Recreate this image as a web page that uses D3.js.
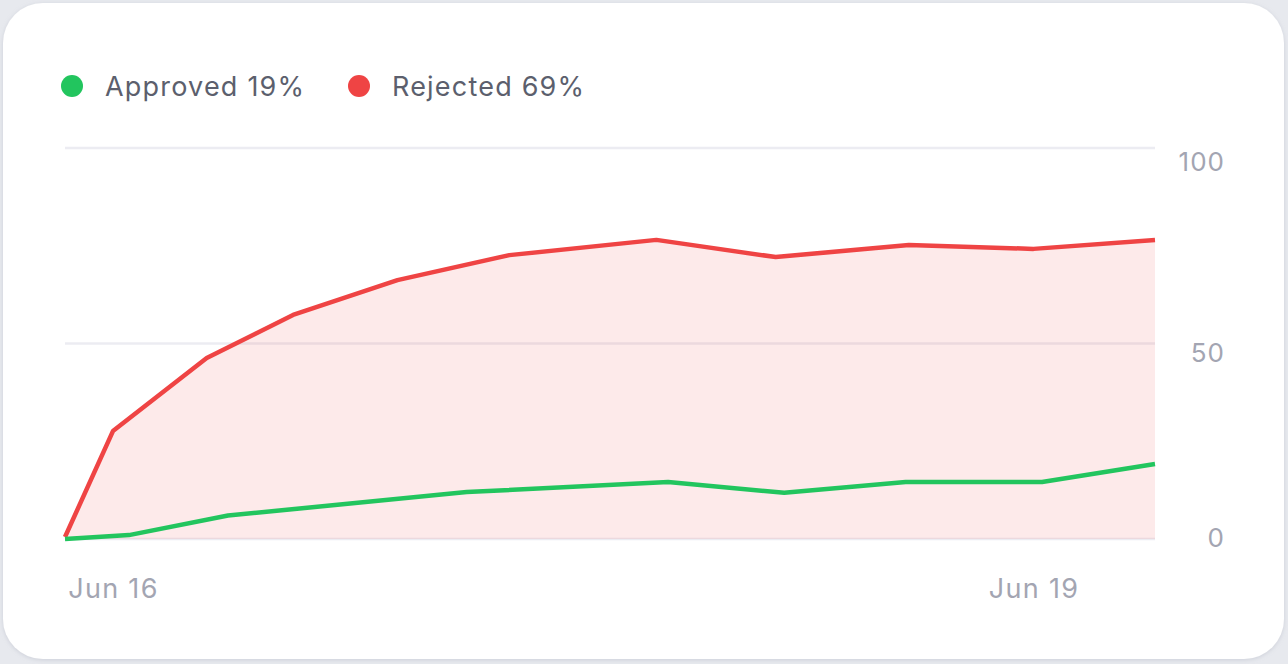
<!DOCTYPE html>
<html>
<head>
<meta charset="utf-8">
<script src="https://cdn.jsdelivr.net/npm/d3@7"></script>
<style>
  html, body { margin: 0; padding: 0; background: #e7e9ee; }
  svg { display: block; }
  text { font-family: Inter, "Noto Sans", sans-serif; }
</style>
</head>
<body>
<svg id="chart" width="1288" height="664"></svg>
<script>
// ---- data ----
const seriesNames = ["Approved", "Rejected"];
const legendLabels = ["Approved 19%", "Rejected 69%"];
const seriesColors = ["#22c55e", "#ef4444"];

const approvedTimes = ["2024-06-15T20:15", "2024-06-16T01:15", "2024-06-16T09:00", "2024-06-17T03:40",
  "2024-06-17T19:25", "2024-06-18T04:30", "2024-06-18T14:00", "2024-06-19T00:40", "2024-06-19T09:30"];
const approvedValues = [0, 1, 6, 12, 14.6, 11.8, 14.6, 14.6, 19.2];

const rejectedTimes = ["2024-06-15T20:15", "2024-06-16T00:00", "2024-06-16T07:20", "2024-06-16T14:05",
  "2024-06-16T22:15", "2024-06-17T07:00", "2024-06-17T18:30", "2024-06-18T03:50", "2024-06-18T14:15",
  "2024-06-19T00:00", "2024-06-19T09:30"];
const rejectedValues = [0.5, 27.6, 46.3, 57.3, 66.2, 72.6, 76.5, 72.1, 75.2, 74.2, 76.5];

const yTicks = [0, 50, 100];
const xTickDates = ["2024-06-16T00:00", "2024-06-19T00:00"];

// ---- build ----
(function () {
const parse = d3.timeParse("%Y-%m-%dT%H:%M");
const approved = approvedTimes.map((t, i) => ({ t: parse(t), v: approvedValues[i] }));
const rejected = rejectedTimes.map((t, i) => ({ t: parse(t), v: rejectedValues[i] }));

const svg = d3.select("#chart");
const defs = svg.append("defs");
const f = defs.append("filter").attr("id", "sh").attr("x", "-5%").attr("y", "-5%").attr("width", "110%").attr("height", "110%");
f.append("feDropShadow").attr("dx", 0).attr("dy", 1).attr("stdDeviation", 2).attr("flood-color", "#9aa0b0").attr("flood-opacity", 0.35);

// card
svg.append("rect").attr("x", 3).attr("y", 3).attr("width", 1281).attr("height", 656)
  .attr("rx", 40).attr("fill", "#ffffff").attr("filter", "url(#sh)");

const pLeft = 65, pRight = 1155, pTop = 148, pBottom = 539;
const allTimes = approved.concat(rejected).map(d => d.t);
const x = d3.scaleTime().domain(d3.extent(allTimes)).range([pLeft, pRight]);
const y = d3.scaleLinear().domain([0, 100]).range([pBottom, pTop]);

// grid
svg.append("g").selectAll("line").data(yTicks).join("line")
  .attr("x1", pLeft).attr("x2", pRight)
  .attr("y1", d => y(d)).attr("y2", d => y(d))
  .attr("stroke", "#ececf2").attr("stroke-width", 2.5);

// area under rejected
const area = d3.area().x(d => x(d.t)).y0(y(0)).y1(d => y(d.v));
svg.append("path").datum(rejected).attr("d", area)
  .attr("fill", "#ef4444").attr("fill-opacity", 0.11);

const line = d3.line().x(d => x(d.t)).y(d => y(d.v));
svg.append("path").datum(rejected).attr("d", line)
  .attr("fill", "none").attr("stroke", seriesColors[1]).attr("stroke-width", 4.5)
  .attr("stroke-linejoin", "round").attr("stroke-linecap", "butt");
svg.append("path").datum(approved).attr("d", line)
  .attr("fill", "none").attr("stroke", seriesColors[0]).attr("stroke-width", 4.5)
  .attr("stroke-linejoin", "round").attr("stroke-linecap", "butt");

// y axis (right)
const yAxis = d3.axisRight(y).tickValues(yTicks).tickSize(0).tickPadding(0).tickFormat(d3.format("d"));
const yg = svg.append("g").attr("transform", `translate(1225,0)`).call(yAxis);
yg.select(".domain").remove();
const yOffset = v => v === 100 ? 13 : (v === 50 ? 9 : -2);
yg.selectAll(".tick text")
  .attr("text-anchor", "end")
  .attr("dy", "0.36em")
  .attr("y", d => yOffset(d))
  .attr("fill", "#a3a5b2").attr("font-size", 26).attr("letter-spacing", 1)
  .style("font-family", "Inter, 'Noto Sans', sans-serif");

// x axis
const xAxis = d3.axisBottom(x).tickValues(xTickDates.map(parse)).tickSize(0).tickPadding(0).tickFormat(d3.timeFormat("%b %d"));
const xg = svg.append("g").attr("transform", `translate(0,598)`).call(xAxis);
xg.select(".domain").remove();
xg.selectAll(".tick text")
  .attr("dy", 0).attr("y", 0)
  .attr("fill", "#a3a5b2").attr("font-size", 27).attr("letter-spacing", 1.3)
  .style("font-family", "Inter, 'Noto Sans', sans-serif");

// legend
const legendX = [72, 359];
const lg = svg.append("g").selectAll("g").data(seriesNames).join("g")
  .attr("transform", (d, i) => `translate(${legendX[i]},86)`);
lg.append("circle").attr("r", 11).attr("fill", (d, i) => seriesColors[i]);
lg.append("text").attr("x", 33).attr("dy", "0.36em")
  .attr("fill", "#5c5f6d").attr("font-size", 27).attr("letter-spacing", 1.2)
  .text((d, i) => legendLabels[i]);
})();
</script>
</body>
</html>
